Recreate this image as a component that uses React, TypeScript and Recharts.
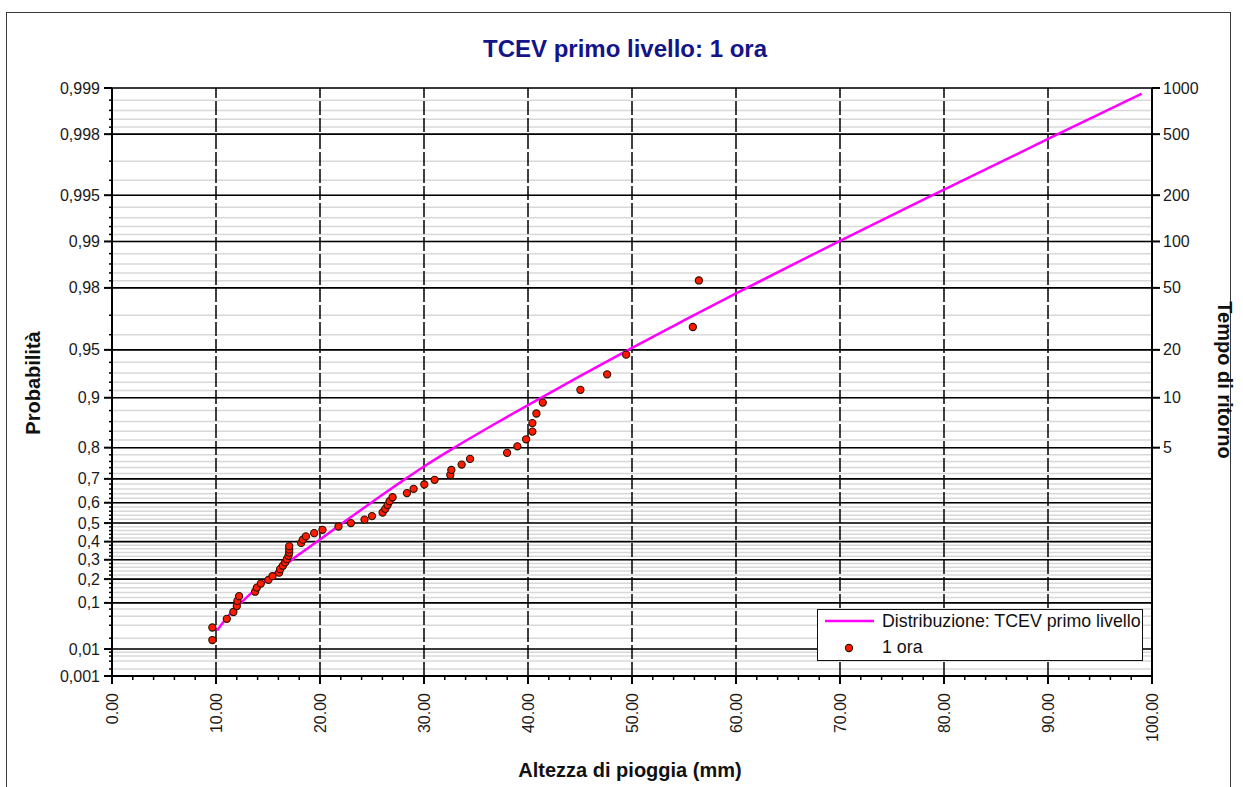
import React from 'react';
import { ComposedChart, Line, Scatter, XAxis, YAxis, CartesianGrid, ReferenceLine } from 'recharts';

// ---------- data ----------
const probMajor = [0.001, 0.01, 0.1, 0.2, 0.3, 0.4, 0.5, 0.6, 0.7, 0.8, 0.9, 0.95, 0.98, 0.99, 0.995, 0.998, 0.999];
const probMajorLabels = ['0,001', '0,01', '0,1', '0,2', '0,3', '0,4', '0,5', '0,6', '0,7', '0,8', '0,9', '0,95', '0,98', '0,99', '0,995', '0,998', '0,999'];
const probMinor = [
  0.002, 0.004, 0.006, 0.008,
  0.02, 0.04, 0.06, 0.08,
  0.12, 0.14, 0.16, 0.18,
  0.22, 0.24, 0.26, 0.28,
  0.32, 0.34, 0.36, 0.38,
  0.42, 0.44, 0.46, 0.48,
  0.52, 0.54, 0.56, 0.58,
  0.62, 0.64, 0.66, 0.68,
  0.72, 0.74, 0.76, 0.78,
  0.82, 0.84, 0.86, 0.88,
  0.91, 0.92, 0.93, 0.94,
  0.96, 0.97,
  0.982, 0.984, 0.986, 0.988,
  0.991, 0.992, 0.993, 0.994,
  0.996, 0.997,
  0.9982, 0.9984, 0.9986, 0.9988,
];
const returnPeriods = [5, 10, 20, 50, 100, 200, 500, 1000];
const returnPeriodLabels = ['5', '10', '20', '50', '100', '200', '500', '1000'];
const xMajorTicks = [0, 10, 20, 30, 40, 50, 60, 70, 80, 90, 100];
const xMajorLabels = ['0.00', '10.00', '20.00', '30.00', '40.00', '50.00', '60.00', '70.00', '80.00', '90.00', '100.00'];
const xMinorTicks = [2, 4, 6, 8, 12, 14, 16, 18, 22, 24, 26, 28, 32, 34, 36, 38, 42, 44, 46, 48, 52, 54, 56, 58, 62, 64, 66, 68, 72, 74, 76, 78, 82, 84, 86, 88, 92, 94, 96, 98];

// TCEV fitted distribution (rain height mm, non-exceedance probability)
const curveX = [10.1, 11, 12, 13, 14, 15, 16, 17, 18, 20, 22, 24, 26, 28, 30, 33, 36, 40, 45, 50, 55, 60, 70, 80, 90, 99];
const curveP = [0.0305, 0.055, 0.0865, 0.1222, 0.1608, 0.2016, 0.244, 0.2869, 0.3297, 0.4119, 0.4936, 0.5687, 0.6358, 0.6943, 0.7439, 0.8016, 0.8455, 0.8891, 0.9267, 0.9515, 0.9676, 0.9783, 0.9901, 0.9954, 0.99785, 0.99891];

// observed maxima "1 ora"
const obsX = [9.65, 9.65, 11.04, 11.67, 12.0, 12.06, 12.22, 13.76, 13.93, 14.31, 15.04, 15.43, 16.07, 16.17, 16.43, 16.65, 16.81, 16.97, 17.04, 17.04, 17.04,
  18.19, 18.35, 18.64, 19.44, 20.24, 21.78, 22.97, 24.28, 25.0, 26.02, 26.28, 26.5, 26.69, 26.98, 28.36, 29.0, 30.03, 31.02, 32.53, 32.63, 33.62, 34.43,
  37.99, 38.98, 39.82, 40.42, 40.42, 40.81, 41.42, 45.04, 47.61, 49.44, 55.85, 56.43];
const obsP = [0.0179, 0.0357, 0.0536, 0.0714, 0.0893, 0.1071, 0.125, 0.1429, 0.1607, 0.1786, 0.1964, 0.2143, 0.2321, 0.25, 0.2679, 0.2857, 0.3036, 0.3214, 0.3393, 0.3571, 0.375,
  0.3929, 0.4107, 0.4286, 0.4464, 0.4643, 0.4821, 0.5, 0.5179, 0.5357, 0.5536, 0.5714, 0.5893, 0.6071, 0.625, 0.6429, 0.6607, 0.6786, 0.6964, 0.7143, 0.7321, 0.75, 0.7679,
  0.7857, 0.8036, 0.8214, 0.8393, 0.8571, 0.875, 0.8929, 0.9107, 0.9286, 0.9464, 0.9643, 0.9821];

// ---------- helpers ----------
const gumbel = (p: number) => -Math.log(-Math.log(p));
const near = (a: number, b: number) => Math.abs(a - b) < 1e-7;

const yMin = gumbel(0.001);
const yMax = gumbel(0.999);
const majorG = probMajor.map(gumbel);
const minorG = probMinor.map(gumbel);
const leftTicks = [...majorG, ...minorG].sort((a, b) => a - b);
const rightG = returnPeriods.map((t) => gumbel(1 - 1 / t));
const xAllTicks = [...xMajorTicks, ...xMinorTicks].sort((a, b) => a - b);

const curveData = curveX.map((x, i) => ({ x, g: gumbel(curveP[i]) }));
const obsData = obsX.map((x, i) => ({ x, g: gumbel(obsP[i]) }));

const TICK_FONT = '"Liberation Sans", Arial, sans-serif';
const TICK_COLOR = '#1a1a1a';

const LeftTick = (props: any) => {
  const { x, y, payload } = props;
  const idx = majorG.findIndex((m) => near(m, payload.value));
  if (idx < 0) {
    return <line x1={x - 3} x2={x} y1={y} y2={y} stroke="#000" strokeWidth={1.5} />;
  }
  return (
    <g>
      <line x1={x - 8} x2={x} y1={y} y2={y} stroke="#000" strokeWidth={2} />
      <text x={x - 12} y={y} dy={5.5} textAnchor="end" fontSize={16} fontFamily={TICK_FONT} fill={TICK_COLOR}>
        {probMajorLabels[idx]}
      </text>
    </g>
  );
};

const RightTick = (props: any) => {
  const { x, y, payload } = props;
  const idx = rightG.findIndex((m) => near(m, payload.value));
  return (
    <g>
      <line x1={x} x2={x + 8} y1={y} y2={y} stroke="#000" strokeWidth={2} />
      <text x={x + 11} y={y} dy={5.5} textAnchor="start" fontSize={16} fontFamily={TICK_FONT} fill={TICK_COLOR}>
        {idx >= 0 ? returnPeriodLabels[idx] : ''}
      </text>
    </g>
  );
};

const BottomTick = (props: any) => {
  const { x, y, payload } = props;
  const idx = xMajorTicks.findIndex((m) => near(m, payload.value));
  if (idx < 0) {
    return <line x1={x} x2={x} y1={y} y2={y + 4} stroke="#000" strokeWidth={1.5} />;
  }
  const tx = x + 6;
  const ty = y + 17;
  return (
    <g>
      <line x1={x} x2={x} y1={y} y2={y + 8} stroke="#000" strokeWidth={2} />
      <text x={tx} y={ty} textAnchor="end" transform={`rotate(-90, ${tx}, ${ty})`} fontSize={16} fontFamily={TICK_FONT} fill={TICK_COLOR}>
        {xMajorLabels[idx]}
      </text>
    </g>
  );
};

const Marker = (props: any) => {
  const { cx, cy } = props;
  if (cx == null || cy == null) return null;
  return <circle cx={cx} cy={cy} r={3.6} fill="#ff1a00" stroke="#2b1200" strokeWidth={1.1} />;
};

export default function App() {
  return (
    <div style={{ position: 'absolute', left: 0, top: 0, width: 1243, height: 787, overflow: 'hidden', background: '#fff', fontFamily: TICK_FONT }}>
      <div style={{ position: 'absolute', left: 6, top: 12, width: 1225, height: 800, border: '1.5px solid #3a3a3a', boxSizing: 'border-box' }} />
      <div style={{ position: 'absolute', left: 0, top: 34, width: 1250, textAlign: 'center', fontSize: 24, lineHeight: '30px', fontWeight: 'bold', color: '#14148a' }}>
        TCEV primo livello: 1 ora
      </div>
      <div style={{ position: 'absolute', left: 0, top: 757, width: 1260, textAlign: 'center', fontSize: 20, lineHeight: '26px', fontWeight: 'bold', color: '#111' }}>
        Altezza di pioggia (mm)
      </div>
      <div style={{ position: 'absolute', left: 33, top: 383, transform: 'translate(-50%, -50%) rotate(-90deg)', whiteSpace: 'nowrap', fontSize: 20, fontWeight: 'bold', color: '#111' }}>
        Probabilità
      </div>
      <div style={{ position: 'absolute', left: 1224, top: 380, transform: 'translate(-50%, -50%) rotate(90deg)', whiteSpace: 'nowrap', fontSize: 20, fontWeight: 'bold', color: '#111' }}>
        Tempo di ritorno
      </div>
      <div style={{ position: 'absolute', left: 0, top: 0 }}>
        <ComposedChart width={1243} height={787} margin={{ top: 88, right: 11, bottom: 51, left: 12 }}>
          <CartesianGrid vertical={false} stroke="#d8d8d8" strokeWidth={1.5} />
          <XAxis
            type="number"
            dataKey="x"
            domain={[0, 100]}
            ticks={xAllTicks}
            interval={0}
            allowDataOverflow
            height={60}
            tickSize={0}
            tickMargin={0}
            tickLine={false}
            axisLine={{ stroke: '#000', strokeWidth: 2 }}
            tick={<BottomTick />}
          />
          <YAxis
            type="number"
            dataKey="g"
            domain={[yMin, yMax]}
            ticks={leftTicks}
            interval={0}
            allowDataOverflow
            width={100}
            tickSize={0}
            tickMargin={0}
            tickLine={false}
            axisLine={{ stroke: '#000', strokeWidth: 2 }}
            tick={<LeftTick />}
          />
          <YAxis
            yAxisId="right"
            orientation="right"
            type="number"
            domain={[yMin, yMax]}
            ticks={rightG}
            interval={0}
            allowDataOverflow
            width={80}
            tickSize={0}
            tickMargin={0}
            tickLine={false}
            axisLine={{ stroke: '#000', strokeWidth: 2 }}
            tick={<RightTick />}
          />
          {xMajorTicks.filter((v) => v > 0 && v < 100).map((v) => (
            <ReferenceLine key={'vx' + v} x={v} stroke="#000" strokeWidth={1.5} strokeDasharray="14 3" />
          ))}
          {majorG.map((g, i) => (
            <ReferenceLine key={'hy' + i} y={g} stroke="#000" strokeWidth={1.6} />
          ))}
          <Line
            data={curveData}
            dataKey="g"
            type="monotone"
            stroke="#ff00ff"
            strokeWidth={2.5}
            dot={false}
            activeDot={false}
            isAnimationActive={false}
          />
          <Scatter data={obsData} dataKey="g" shape={<Marker />} isAnimationActive={false} />
        </ComposedChart>
      </div>
      <div style={{ position: 'absolute', left: 817, top: 609, width: 326, height: 52, border: '1.5px solid #111', boxSizing: 'border-box', background: '#fff' }}>
        <svg width={60} height={50} style={{ position: 'absolute', left: 0, top: 0 }}>
          <line x1={7} x2={56} y1={11} y2={11} stroke="#ff00ff" strokeWidth={2.5} />
          <circle cx={31} cy={38} r={3.6} fill="#ff1a00" stroke="#2b1200" strokeWidth={1.1} />
        </svg>
        <div style={{ position: 'absolute', left: 64, top: 1, fontSize: 17.8, lineHeight: '20px', color: '#111', whiteSpace: 'nowrap' }}>
          Distribuzione: TCEV primo livello
        </div>
        <div style={{ position: 'absolute', left: 64, top: 27, fontSize: 17.8, lineHeight: '20px', color: '#111', whiteSpace: 'nowrap' }}>
          1 ora
        </div>
      </div>
    </div>
  );
}
